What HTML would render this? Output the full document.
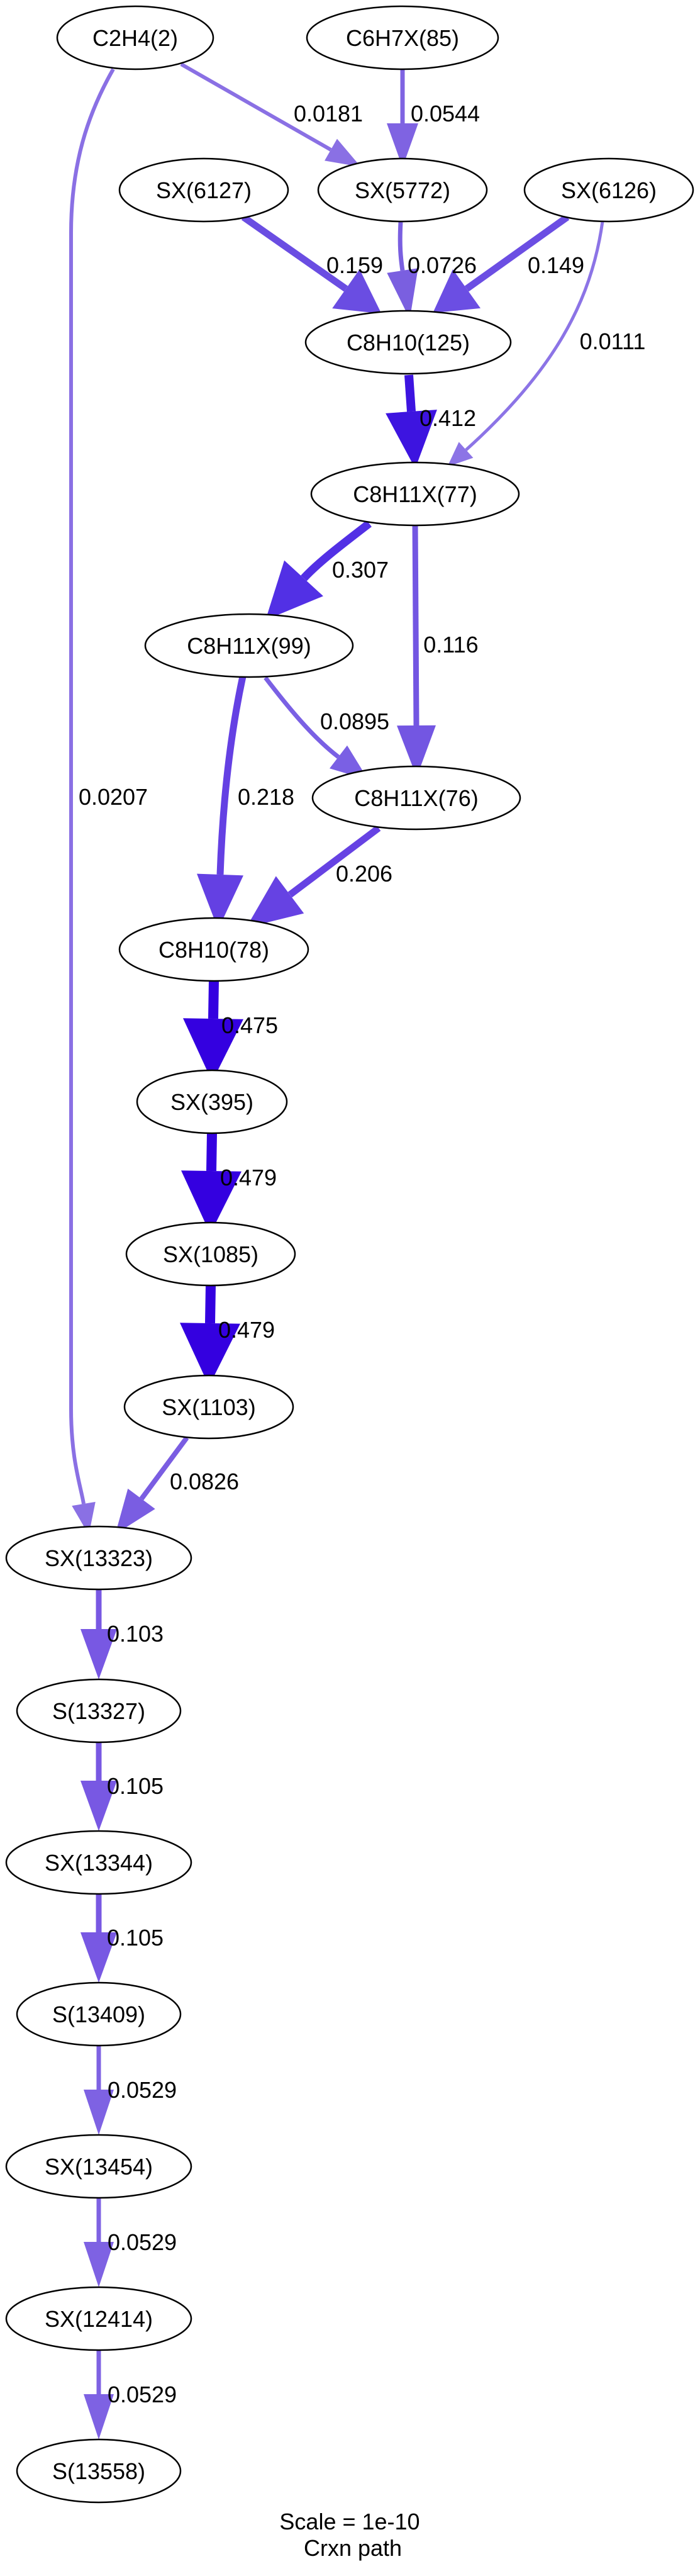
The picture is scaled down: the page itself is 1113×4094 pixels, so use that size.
<!DOCTYPE html>
<html><head><meta charset="utf-8"><style>
html,body{margin:0;padding:0;background:#fff}
svg{display:block}
text{font-family:"Liberation Sans",Arial,sans-serif;font-size:36px;fill:#000}
</style></head><body>
<svg width="1113" height="4094" viewBox="0 0 1113 4094" xmlns="http://www.w3.org/2000/svg">
<defs>
<marker id="m1" markerUnits="userSpaceOnUse" refX="0" refY="0" orient="auto" overflow="visible"><path d="M0,-20 L55,0 L0,20 z" fill="#8a70e4"/></marker>
<marker id="m2" markerUnits="userSpaceOnUse" refX="0" refY="0" orient="auto" overflow="visible"><path d="M0,-25 L70,0 L0,25 z" fill="#7f63e2"/></marker>
<marker id="m3" markerUnits="userSpaceOnUse" refX="0" refY="0" orient="auto" overflow="visible"><path d="M0,-38 L69,0 L0,38 z" fill="#6a4de2"/></marker>
<marker id="m4" markerUnits="userSpaceOnUse" refX="0" refY="0" orient="auto" overflow="visible"><path d="M0,-25 L78,0 L0,25 z" fill="#7a5fe0"/></marker>
<marker id="m5" markerUnits="userSpaceOnUse" refX="0" refY="0" orient="auto" overflow="visible"><path d="M0,-38 L66,0 L0,38 z" fill="#6b4ee3"/></marker>
<marker id="m6" markerUnits="userSpaceOnUse" refX="0" refY="0" orient="auto" overflow="visible"><path d="M0,-17 L40,0 L0,17 z" fill="#8c74e6"/></marker>
<marker id="m7" markerUnits="userSpaceOnUse" refX="0" refY="0" orient="auto" overflow="visible"><path d="M0,-41 L91,0 L0,41 z" fill="#3d14e0"/></marker>
<marker id="m8" markerUnits="userSpaceOnUse" refX="0" refY="0" orient="auto" overflow="visible"><path d="M0,-42 L90,0 L0,42 z" fill="#5230e5"/></marker>
<marker id="m9" markerUnits="userSpaceOnUse" refX="0" refY="0" orient="auto" overflow="visible"><path d="M0,-31 L82,0 L0,31 z" fill="#7356e2"/></marker>
<marker id="m10" markerUnits="userSpaceOnUse" refX="0" refY="0" orient="auto" overflow="visible"><path d="M0,-23 L60,0 L0,23 z" fill="#7a60e4"/></marker>
<marker id="m11" markerUnits="userSpaceOnUse" refX="0" refY="0" orient="auto" overflow="visible"><path d="M0,-37 L87,0 L0,37 z" fill="#6440e3"/></marker>
<marker id="m12" markerUnits="userSpaceOnUse" refX="0" refY="0" orient="auto" overflow="visible"><path d="M0,-37 L87,0 L0,37 z" fill="#6642e3"/></marker>
<marker id="m13" markerUnits="userSpaceOnUse" refX="0" refY="0" orient="auto" overflow="visible"><path d="M0,-48 L100,0 L0,48 z" fill="#3400e0"/></marker>
<marker id="m16" markerUnits="userSpaceOnUse" refX="0" refY="0" orient="auto" overflow="visible"><path d="M0,-27 L70,0 L0,27 z" fill="#7a5de2"/></marker>
<marker id="m17" markerUnits="userSpaceOnUse" refX="0" refY="0" orient="auto" overflow="visible"><path d="M0,-19 L50,0 L0,19 z" fill="#8a70e4"/></marker>
<marker id="mb1" markerUnits="userSpaceOnUse" refX="0" refY="0" orient="auto" overflow="visible"><path d="M0,-29 L80,0 L0,29 z" fill="#7858e3"/></marker>
<marker id="mb2" markerUnits="userSpaceOnUse" refX="0" refY="0" orient="auto" overflow="visible"><path d="M0,-24 L72,0 L0,24 z" fill="#7e62e3"/></marker>
</defs>
<g fill="none" stroke-linecap="butt">
<path d="M288,102 L526,238" stroke="#8a70e4" stroke-width="6" marker-end="url(#m1)"/>
<path d="M640,111 L640,196" stroke="#7f63e2" stroke-width="7" marker-end="url(#m2)"/>
<path d="M387,345 L550,459" stroke="#6a4de2" stroke-width="11" marker-end="url(#m3)"/>
<path d="M637,353 C635,390 637,410 640,430" stroke="#7a5fe0" stroke-width="7" marker-end="url(#m4)"/>
<path d="M902,345 L742,459" stroke="#6b4ee3" stroke-width="11" marker-end="url(#m5)"/>
<path d="M958,352 C940,480 880,590 741,715" stroke="#8c74e6" stroke-width="5" marker-end="url(#m6)"/>
<path d="M650,596 L654,654" stroke="#3d14e0" stroke-width="14" marker-end="url(#m7)"/>
<path d="M587,832 C540,868 505,895 483,919" stroke="#5230e5" stroke-width="13" marker-end="url(#m8)"/>
<path d="M660,829 L662,1153" stroke="#7356e2" stroke-width="9" marker-end="url(#m9)"/>
<path d="M422,1077 C455,1120 495,1170 538,1203" stroke="#7a60e4" stroke-width="7" marker-end="url(#m10)"/>
<path d="M386,1075 C370,1150 355,1250 350,1390" stroke="#6440e3" stroke-width="11" marker-end="url(#m11)"/>
<path d="M602,1316 L461,1422" stroke="#6642e3" stroke-width="11" marker-end="url(#m12)"/>
<path d="M340,1559 L339,1619" stroke="#3400e0" stroke-width="16" marker-end="url(#m13)"/>
<path d="M337,1801 L336,1861" stroke="#3400e0" stroke-width="16" marker-end="url(#m13)"/>
<path d="M335,2043 L334,2103" stroke="#3400e0" stroke-width="16" marker-end="url(#m13)"/>
<path d="M297,2285 L225,2382" stroke="#7a5de2" stroke-width="8" marker-end="url(#m16)"/>
<path d="M180,110 C140,180 113,260 113,370 L113,2239 C113,2320 128,2360 133,2390" stroke="#8a70e4" stroke-width="6" marker-end="url(#m17)"/>
<path d="M157,2526 L157,2589" stroke="#7858e3" stroke-width="9" marker-end="url(#mb1)"/>
<path d="M157,2769 L157,2830" stroke="#7858e3" stroke-width="9" marker-end="url(#mb1)"/>
<path d="M157,3010 L157,3071" stroke="#7858e3" stroke-width="9" marker-end="url(#mb1)"/>
<path d="M157,3251 L157,3321" stroke="#7e62e3" stroke-width="7" marker-end="url(#mb2)"/>
<path d="M157,3493 L157,3563" stroke="#7e62e3" stroke-width="7" marker-end="url(#mb2)"/>
<path d="M157,3735 L157,3805" stroke="#7e62e3" stroke-width="7" marker-end="url(#mb2)"/>
</g>
<g fill="#fff" stroke="#000" stroke-width="2.5">
<ellipse cx="215" cy="60" rx="124" ry="50"/>
<ellipse cx="640" cy="60" rx="152" ry="50"/>
<ellipse cx="324" cy="302" rx="134" ry="50"/>
<ellipse cx="640" cy="302" rx="134" ry="50"/>
<ellipse cx="968" cy="302" rx="134" ry="50"/>
<ellipse cx="649" cy="544" rx="163" ry="50"/>
<ellipse cx="660" cy="785" rx="165" ry="50"/>
<ellipse cx="396" cy="1026" rx="165" ry="50"/>
<ellipse cx="662" cy="1268" rx="165" ry="50"/>
<ellipse cx="340" cy="1509" rx="150" ry="50"/>
<ellipse cx="337" cy="1751" rx="119" ry="50"/>
<ellipse cx="335" cy="1993" rx="134" ry="50"/>
<ellipse cx="332" cy="2236" rx="134" ry="50"/>
<ellipse cx="157" cy="2476" rx="147" ry="50"/>
<ellipse cx="157" cy="2719" rx="130" ry="50"/>
<ellipse cx="157" cy="2960" rx="147" ry="50"/>
<ellipse cx="157" cy="3201" rx="130" ry="50"/>
<ellipse cx="157" cy="3443" rx="147" ry="50"/>
<ellipse cx="157" cy="3685" rx="147" ry="50"/>
<ellipse cx="157" cy="3927" rx="130" ry="50"/>
</g>
<g text-anchor="middle">
<text x="215" y="73">C2H4(2)</text>
<text x="640" y="73">C6H7X(85)</text>
<text x="324" y="315">SX(6127)</text>
<text x="640" y="315">SX(5772)</text>
<text x="968" y="315">SX(6126)</text>
<text x="649" y="557">C8H10(125)</text>
<text x="660" y="798">C8H11X(77)</text>
<text x="396" y="1039">C8H11X(99)</text>
<text x="662" y="1281">C8H11X(76)</text>
<text x="340" y="1522">C8H10(78)</text>
<text x="337" y="1764">SX(395)</text>
<text x="335" y="2006">SX(1085)</text>
<text x="332" y="2249">SX(1103)</text>
<text x="157" y="2489">SX(13323)</text>
<text x="157" y="2732">S(13327)</text>
<text x="157" y="2973">SX(13344)</text>
<text x="157" y="3214">S(13409)</text>
<text x="157" y="3456">SX(13454)</text>
<text x="157" y="3698">SX(12414)</text>
<text x="157" y="3940">S(13558)</text>
<text x="522" y="193">0.0181</text>
<text x="708" y="193">0.0544</text>
<text x="564" y="434">0.159</text>
<text x="703" y="434">0.0726</text>
<text x="884" y="434">0.149</text>
<text x="974" y="555">0.0111</text>
<text x="712" y="677">0.412</text>
<text x="573" y="918">0.307</text>
<text x="717" y="1037">0.116</text>
<text x="564" y="1159">0.0895</text>
<text x="180" y="1279">0.0207</text>
<text x="423" y="1279">0.218</text>
<text x="579" y="1401">0.206</text>
<text x="397" y="1642">0.475</text>
<text x="395" y="1884">0.479</text>
<text x="392" y="2126">0.479</text>
<text x="325" y="2367">0.0826</text>
<text x="215" y="2609">0.103</text>
<text x="215" y="2851">0.105</text>
<text x="215" y="3092">0.105</text>
<text x="226" y="3334">0.0529</text>
<text x="226" y="3576">0.0529</text>
<text x="226" y="3818">0.0529</text>
<text x="556" y="4020">Scale = 1e-10</text>
<text x="561" y="4062">Crxn path</text>
</g>
</svg>
</body></html>
